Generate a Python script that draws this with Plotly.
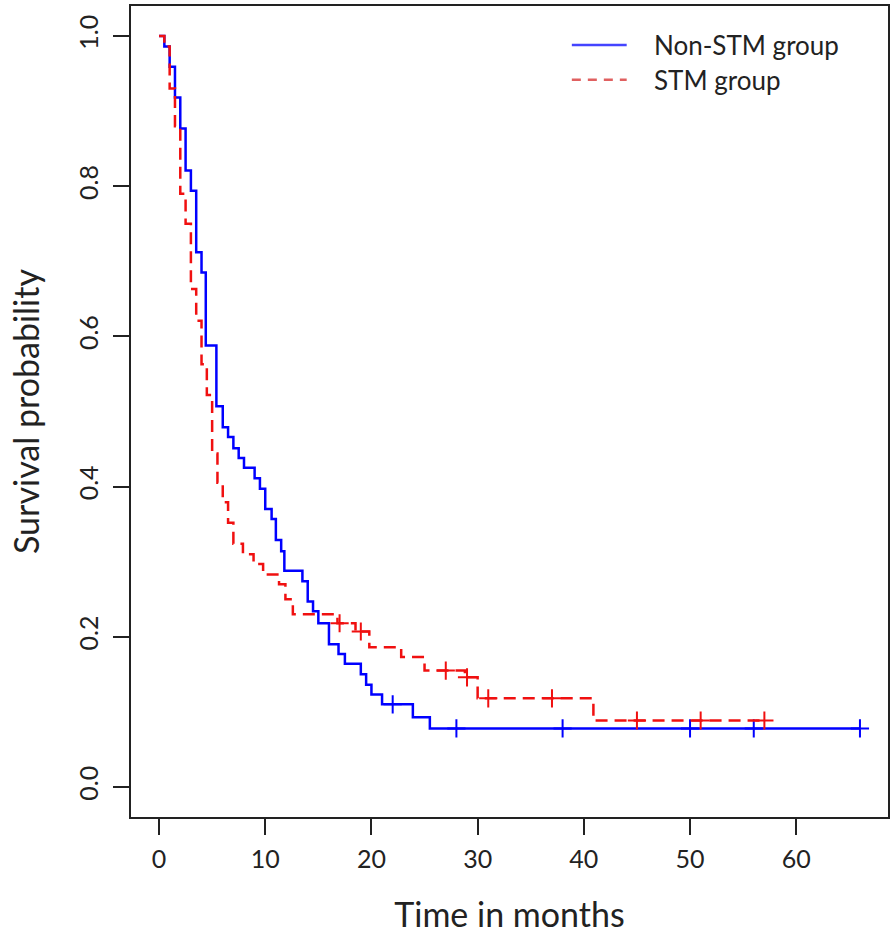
import plotly.graph_objects as go

# ---- data ----
nonstm_time = [0, 0.5, 1.0, 1.5, 2.0, 2.5, 3.0, 3.5, 4.0, 4.4, 5.4, 6.0, 6.5, 7.0, 7.5, 8.0,
               9.0, 9.5, 10.0, 10.6, 11.0, 11.5, 11.8, 13.5, 14.0, 14.5, 15.0, 16.0, 16.9,
               17.5, 19.0, 19.5, 20.0, 21.0, 23.9, 25.5, 66.0]
nonstm_surv = [1.0, 0.986, 0.959, 0.918, 0.877, 0.821, 0.794, 0.712, 0.685, 0.588, 0.507,
               0.479, 0.466, 0.451, 0.438, 0.425, 0.411, 0.397, 0.370, 0.357, 0.329, 0.314,
               0.288, 0.274, 0.247, 0.234, 0.218, 0.190, 0.177, 0.164, 0.150, 0.136, 0.123,
               0.110, 0.093, 0.078, 0.078]
nonstm_censor = [22, 28, 38, 50, 56, 66]

stm_time = [0, 0.5, 1.0, 1.5, 2.0, 2.5, 3.0, 3.5, 4.0, 4.5, 5.0, 5.5, 6.0, 6.5, 7.0, 7.9,
            8.9, 9.8, 11.3, 11.9, 12.6, 16.8, 18.5, 19.8, 22.8, 25.0, 28.8, 30.0, 40.9, 57.0]
stm_surv = [1.0, 0.986, 0.93, 0.88, 0.79, 0.75, 0.663, 0.621, 0.563, 0.522, 0.444, 0.405,
            0.379, 0.352, 0.324, 0.310, 0.297, 0.283, 0.270, 0.250, 0.230, 0.218, 0.207,
            0.186, 0.173, 0.155, 0.146, 0.118, 0.0885, 0.0885]
stm_censor = [17, 19, 27, 29, 31, 37, 45, 51, 57]

x_ticks = [0, 10, 20, 30, 40, 50, 60]
y_ticks = [0.0, 0.2, 0.4, 0.6, 0.8, 1.0]
y_tick_labels = ["0.0", "0.2", "0.4", "0.6", "0.8", "1.0"]
series_names = ["Non-STM group", "STM group"]
BLUE = "#0000FF"
RED = "#F01010"
FONT = "Lato"


def surv_at(times, survs, t):
    s = survs[0]
    for ti, si in zip(times, survs):
        if ti <= t:
            s = si
    return s


fig = go.Figure()
fig.add_trace(go.Scatter(x=nonstm_time, y=nonstm_surv, mode="lines", line_shape="hv",
                         line=dict(color=BLUE, width=2.5), showlegend=False))
fig.add_trace(go.Scatter(x=nonstm_censor, y=[surv_at(nonstm_time, nonstm_surv, t) for t in nonstm_censor],
                         mode="markers", marker=dict(symbol="cross-thin", size=13,
                                                     line=dict(color=BLUE, width=2)),
                         showlegend=False))
fig.add_trace(go.Scatter(x=stm_time, y=stm_surv, mode="lines", line_shape="hv",
                         line=dict(color=RED, width=2.5, dash="12px,7px"), showlegend=False))
fig.add_trace(go.Scatter(x=stm_censor, y=[surv_at(stm_time, stm_surv, t) for t in stm_censor],
                         mode="markers", marker=dict(symbol="cross-thin", size=13,
                                                     line=dict(color=RED, width=2)),
                         showlegend=False))

# manual legend (paper coords)
L, R_, T, B = 131, 890, 4, 817
W, H = R_ - L, B - T
def px(x):
    return (x - L) / W
def py(y):
    return (B - y) / H

shapes = [
    dict(type="line", xref="paper", yref="paper", x0=px(573), x1=px(628), y0=py(43), y1=py(43),
         line=dict(color="#4444FF", width=2.5)),
    dict(type="line", xref="paper", yref="paper", x0=px(573), x1=px(628), y0=py(78), y1=py(78),
         line=dict(color="#E06060", width=2.5, dash="9px,7px")),
]
annotations = [
    dict(xref="paper", yref="paper", x=px(653), y=py(43), text=series_names[0], showarrow=False,
         xanchor="left", yanchor="middle", font=dict(family=FONT, size=26, color="#222")),
    dict(xref="paper", yref="paper", x=px(653), y=py(78), text=series_names[1], showarrow=False,
         xanchor="left", yanchor="middle", font=dict(family=FONT, size=26, color="#222")),
]

fig.update_layout(
    width=894, height=934,
    margin=dict(l=L, r=894 - R_, t=T, b=934 - B),
    paper_bgcolor="white", plot_bgcolor="white",
    font=dict(family=FONT, size=24, color="#222"),
    shapes=shapes, annotations=annotations,
    showlegend=False,
)
fig.update_xaxes(range=[-2.64, 68.64], tickvals=x_ticks, ticks="outside", ticklen=16,
                 tickwidth=1.5, tickcolor="#222", showline=True, linecolor="#222", linewidth=1.5,
                 mirror=True, showgrid=False, zeroline=False,
                 tickfont=dict(size=25), ticklabelstandoff=3,
                 title=dict(text="Time in months", font=dict(size=34), standoff=31))
fig.update_yaxes(range=[-0.04, 1.04], tickvals=y_ticks, ticktext=y_tick_labels, ticks="outside",
                 ticklen=16, tickwidth=1.5, tickcolor="#222", showline=True, linecolor="#222",
                 linewidth=1.5, mirror=True, showgrid=False, zeroline=False, tickangle=-90,
                 tickfont=dict(size=25), ticklabelstandoff=5,
                 title=dict(text="Survival probability", font=dict(size=34), standoff=23))

fig.write_html("out.html", config={"displayModeBar": False},
               post_script="document.body.style.margin='0';document.body.style.overflow='hidden';")
